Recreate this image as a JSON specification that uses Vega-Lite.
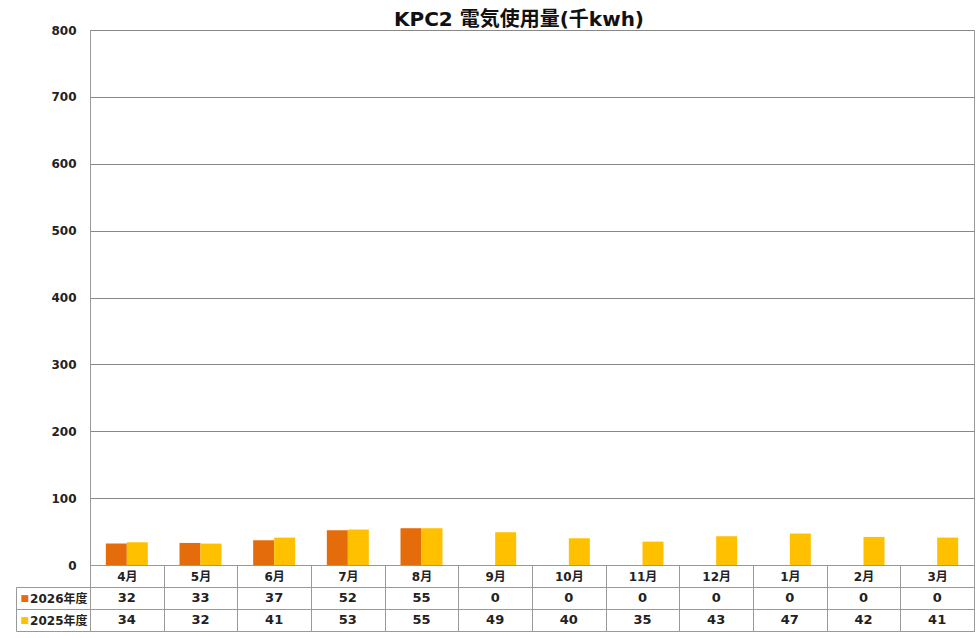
{
  "$schema": "https://vega.github.io/schema/vega-lite/v6.json",
  "background": "white",
  "padding": {"left": 15, "top": 9, "right": 2, "bottom": 0},
  "spacing": 22,
  "bounds": "flush",
  "config": {
    "font": "DejaVu Sans, Noto Sans CJK JP",
    "view": {"stroke": "#999"},
    "axis": {"labelColor": "#222", "labelFontWeight": "bold", "labelFontSize": 12, "labelFont": "DejaVu Sans, Noto Sans CJK JP"}
  },
  "data": {
    "values": [
      {"month": "4月", "series": "2026年度", "value": 32},
      {"month": "5月", "series": "2026年度", "value": 33},
      {"month": "6月", "series": "2026年度", "value": 37},
      {"month": "7月", "series": "2026年度", "value": 52},
      {"month": "8月", "series": "2026年度", "value": 55},
      {"month": "9月", "series": "2026年度", "value": 0},
      {"month": "10月", "series": "2026年度", "value": 0},
      {"month": "11月", "series": "2026年度", "value": 0},
      {"month": "12月", "series": "2026年度", "value": 0},
      {"month": "1月", "series": "2026年度", "value": 0},
      {"month": "2月", "series": "2026年度", "value": 0},
      {"month": "3月", "series": "2026年度", "value": 0},
      {"month": "4月", "series": "2025年度", "value": 34},
      {"month": "5月", "series": "2025年度", "value": 32},
      {"month": "6月", "series": "2025年度", "value": 41},
      {"month": "7月", "series": "2025年度", "value": 53},
      {"month": "8月", "series": "2025年度", "value": 55},
      {"month": "9月", "series": "2025年度", "value": 49},
      {"month": "10月", "series": "2025年度", "value": 40},
      {"month": "11月", "series": "2025年度", "value": 35},
      {"month": "12月", "series": "2025年度", "value": 43},
      {"month": "1月", "series": "2025年度", "value": 47},
      {"month": "2月", "series": "2025年度", "value": 42},
      {"month": "3月", "series": "2025年度", "value": 41}
    ]
  },
  "vconcat": [
    {
      "width": 884,
      "height": 535,
      "title": {"text": "KPC2 電気使用量(千kwh)", "fontSize": 20, "fontWeight": "bold", "color": "#111", "font": "DejaVu Sans, Noto Sans CJK JP", "dx": -13, "offset": -6},
      "mark": {"type": "bar"},
      "encoding": {
        "x": {
          "field": "month", "type": "nominal",
          "sort": ["4月","5月","6月","7月","8月","9月","10月","11月","12月","1月","2月","3月"],
          "scale": {"paddingInner": 0, "paddingOuter": 0},
          "axis": {"title": null, "labelAngle": 0, "tickBand": "extent", "tickSize": 22, "tickColor": "#999", "domainColor": "#999", "labelPadding": -16, "grid": false}
        },
        "y": {
          "field": "value", "type": "quantitative",
          "scale": {"domain": [0, 800]},
          "axis": {"title": null, "values": [0,100,200,300,400,500,600,700,800], "grid": true, "gridColor": "#888", "ticks": false, "labelPadding": 14, "domainColor": "#999"}
        },
        "xOffset": {"field": "series", "sort": ["2026年度","2025年度"], "scale": {"paddingInner": 0, "paddingOuter": 0.754}},
        "color": {"field": "series", "scale": {"domain": ["2026年度","2025年度"], "range": ["#E46C0A","#FFC000"]}, "legend": null}
      }
    },
    {
      "width": 884,
      "height": 44,
      "layer": [
        {
          "mark": {"type": "text", "fontSize": 13, "fontWeight": "bold", "color": "#222", "font": "DejaVu Sans, Noto Sans CJK JP"},
          "encoding": {
            "x": {
              "field": "month", "type": "nominal",
              "sort": ["4月","5月","6月","7月","8月","9月","10月","11月","12月","1月","2月","3月"],
              "scale": {"paddingInner": 0, "paddingOuter": 0},
              "axis": {"title": null, "labels": false, "ticks": false, "domain": false, "grid": true, "tickBand": "extent", "gridColor": "#999"}
            },
            "y": {
              "field": "series", "type": "nominal", "sort": ["2026年度","2025年度"],
              "scale": {"paddingInner": 0, "paddingOuter": 0},
              "axis": {"title": null, "labelPadding": -71, "ticks": true, "tickBand": "extent", "tickSize": 74, "tickColor": "#999", "domain": false, "grid": true, "gridColor": "#999", "labelFontSize": 12}
            },
            "text": {"field": "value", "type": "quantitative"}
          }
        },
        {
          "mark": {"type": "text", "opacity": 0},
          "encoding": {
            "x": {"field": "month", "type": "nominal", "sort": ["4月","5月","6月","7月","8月","9月","10月","11月","12月","1月","2月","3月"]},
            "y": {
              "field": "series", "type": "nominal", "sort": ["2026年度","2025年度"],
              "axis": {"orient": "left", "offset": 74, "title": null, "ticks": false, "grid": false, "domain": true, "domainColor": "#999", "labelExpr": "'■'", "labelAlign": "left", "labelPadding": -4, "labelFontSize": 9, "labelColor": {"condition": {"test": "datum.value === '2026年度'", "value": "#E46C0A"}, "value": "#FFC000"}}
            },
            "text": {"field": "value", "type": "quantitative"}
          }
        }
      ],
      "resolve": {"axis": {"y": "independent"}}
    }
  ]
}
